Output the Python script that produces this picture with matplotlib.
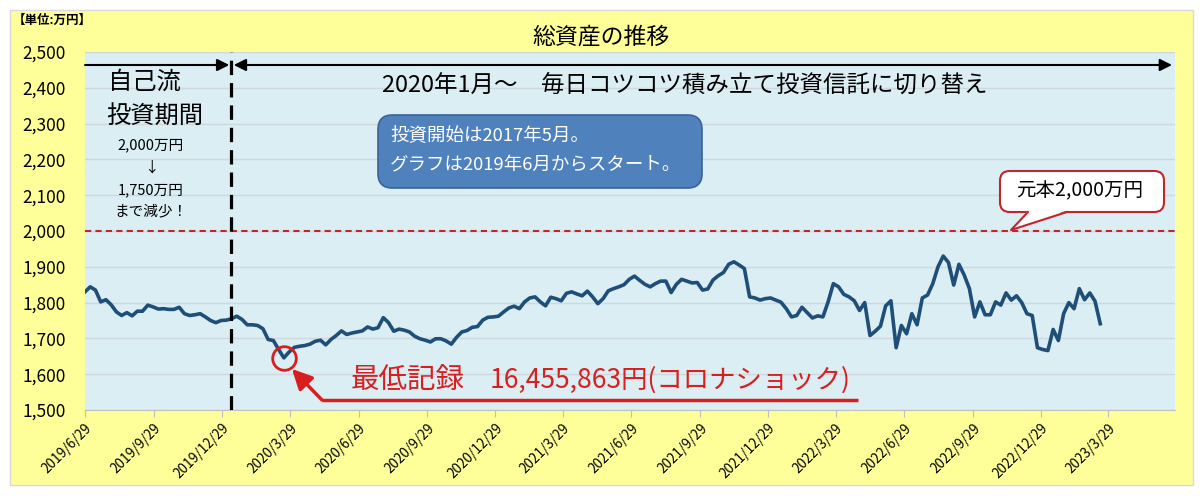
import matplotlib
matplotlib.use('Agg')
import matplotlib.pyplot as plt
import matplotlib.patches as patches
import matplotlib.dates as mdates
from matplotlib.lines import Line2D
import pandas as pd

plt.rcParams['font.family'] = ['Noto Sans CJK JP', 'DejaVu Sans']

# weekly total assets (万円)
start = '2019-06-29'
values_2019 = [1830, 1844, 1835, 1802, 1808, 1794, 1774, 1764, 1772, 1763, 1776, 1776,
               1793, 1788, 1782, 1783, 1781, 1781, 1787, 1769, 1764, 1766, 1769, 1760,
               1750, 1744, 1750, 1751, 1755, 1762, 1753, 1738, 1738, 1736, 1727, 1697,
               1694, 1669, 1645.6, 1662, 1675, 1678, 1680, 1684, 1692, 1695, 1682, 1697, 1708]
values_2020 = [1721, 1711, 1715, 1718, 1721, 1732, 1726, 1730, 1758, 1744, 1720, 1726,
               1723, 1718, 1706, 1699, 1695, 1690, 1699, 1699, 1693, 1684, 1703, 1718,
               1722, 1731, 1733, 1751, 1759, 1760, 1762, 1774, 1785, 1790, 1783, 1802,
               1813, 1816, 1802, 1791, 1815, 1811, 1805, 1826, 1830, 1824, 1819, 1832, 1816]
values_2021 = [1797, 1811, 1833, 1839, 1844, 1850, 1865, 1874, 1862, 1851, 1844, 1853,
               1860, 1860, 1828, 1851, 1865, 1860, 1855, 1856, 1835, 1838, 1863, 1875,
               1884, 1907, 1914, 1905, 1895, 1816, 1813, 1807, 1811, 1813, 1807, 1801,
               1783, 1760, 1764, 1787, 1772, 1757, 1763, 1760, 1802, 1853, 1844, 1823]
values_2022 = [1816, 1805, 1778, 1800, 1708, 1720, 1734, 1791, 1805, 1674, 1736, 1713,
               1769, 1738, 1813, 1821, 1853, 1900, 1930, 1912, 1849, 1907, 1877, 1839,
               1760, 1802, 1766, 1766, 1802, 1793, 1827, 1807, 1819, 1800, 1769, 1764,
               1674, 1669, 1666, 1725, 1694, 1769, 1800, 1783, 1839, 1808, 1827, 1804, 1741]
values = values_2019 + values_2020 + values_2021 + values_2022
dates = pd.date_range(start, periods=len(values), freq='7D')

tick_dates = [pd.Timestamp(start) + pd.DateOffset(months=3 * i) for i in range(16)]
tick_labels = [f'{d.year}/{d.month}/{d.day}' for d in tick_dates]
y_ticks = list(range(1500, 2501, 100))
principal = 2000
switch_date = pd.Timestamp('2020-01-10')
x_end = pd.Timestamp('2023-06-26')

RED = '#D81E1E'
W, H = 1200, 497


def fx(x):
    return x / W


def fy(y):
    return 1 - y / H


fig = plt.figure(figsize=(12, 4.97), dpi=100)
fig.add_artist(patches.Rectangle((fx(10), fy(485)), (1193 - 10) / W, (485 - 10) / H,
                                 transform=fig.transFigure, facecolor='#FFFF99',
                                 edgecolor='#D9D9D9', lw=1, zorder=-1))

ax = fig.add_axes([85 / W, 1 - 410 / H, 1090 / W, 358 / H])
ax.set_facecolor('#DAEEF3')

ax.plot(dates, values, color='#1F4E79', lw=2.6, zorder=4, solid_joinstyle='round')

# lowest point circle
imin = values.index(min(values))
ax.plot(dates[imin], values[imin], marker='o', ms=17, mfc='none', mec=RED, mew=2, zorder=6)

ax.set_ylim(1500, 2500)
ax.set_yticks(y_ticks)
ax.set_yticklabels([f'{v:,}' for v in y_ticks])
ax.set_xlim(pd.Timestamp(start), x_end)
ax.set_xticks(tick_dates)
ax.set_xticklabels(tick_labels, rotation=45, ha='right', rotation_mode='anchor')
ax.yaxis.grid(True, color='#CFD9DD', lw=1)
ax.set_axisbelow(True)
for s in ['top', 'right', 'left']:
    ax.spines[s].set_visible(False)
ax.spines['bottom'].set_color('#BFBFBF')
ax.tick_params(axis='y', length=0, pad=14, labelsize=12.5)
ax.tick_params(axis='x', length=5, color='#BFBFBF', labelsize=9.8, pad=3)

ax.axhline(principal, color='#C0272D', lw=1.5, ls=(0, (3, 2)), zorder=3)
ax.axvline(switch_date, color='black', lw=2.3, ls=(0, (4.5, 2.5)), zorder=5)

# period arrows
xt = ax.get_xaxis_transform()
sw = mdates.date2num(switch_date)
ay = 0.9637
ax.annotate('', xy=(sw - 2, ay), xytext=(mdates.date2num(pd.Timestamp(start)), ay), xycoords=xt,
            arrowprops=dict(arrowstyle='-|>', color='black', lw=1.5, mutation_scale=18,
                            shrinkA=0, shrinkB=0))
ax.annotate('', xy=(mdates.date2num(pd.Timestamp('2023-06-22')), ay), xytext=(sw + 4, ay),
            xycoords=xt,
            arrowprops=dict(arrowstyle='<|-|>', color='black', lw=1.5, mutation_scale=18,
                            shrinkA=0, shrinkB=0))


def ap(x, y):
    return (x - 85) / 1090, (410 - y) / 358


ax.text(*ap(108, 82), '自己流', transform=ax.transAxes, fontsize=17.5, va='center', ha='left')
ax.text(*ap(106, 117), '投資期間', transform=ax.transAxes, fontsize=17.5, va='center', ha='left')
for yy, s in [(145, '2,000万円'), (168, '↓'), (190, '1,750万円'), (211, 'まで減少！')]:
    ax.text(*ap(151, yy), s, transform=ax.transAxes, fontsize=10.5, va='center', ha='center')
ax.text(*ap(685, 86), '2020年1月～　毎日コツコツ積み立て投資信託に切り替え', transform=ax.transAxes,
        fontsize=16.9, va='center', ha='center')

# title and unit
fig.text(fx(601), fy(37), '総資産の推移', fontsize=16.5, ha='center', va='center')
fig.text(fx(13), fy(20), '【単位:万円】', fontsize=9, fontweight='bold', ha='left', va='center')

# blue note box
fig.add_artist(patches.FancyBboxPatch((fx(378), fy(188)), (702 - 378) / W, (188 - 115) / H,
                                      boxstyle='round,pad=0,rounding_size=0.012',
                                      mutation_aspect=W / H, transform=fig.transFigure,
                                      facecolor='#4F81BD', edgecolor='#3A6496', lw=1.2, zorder=6))
fig.text(fx(390), fy(135), '投資開始は2017年5月。', color='white', fontsize=13.3, va='center', zorder=7)
fig.text(fx(390), fy(165), 'グラフは2019年6月からスタート。', color='white', fontsize=13.3, va='center',
         zorder=7)

# principal callout
fig.add_artist(patches.FancyBboxPatch((fx(1000), fy(212)), (1164 - 1000) / W, (212 - 171) / H,
                                      boxstyle='round,pad=0,rounding_size=0.008',
                                      mutation_aspect=W / H, transform=fig.transFigure,
                                      facecolor='white', edgecolor='#C0272D', lw=1.5, zorder=6))
fig.add_artist(patches.Polygon([(fx(1028), fy(210.5)), (fx(1011), fy(230)), (fx(1067), fy(210.5))],
                               closed=True, transform=fig.transFigure, facecolor='white',
                               edgecolor='none', zorder=7))
fig.add_artist(Line2D([fx(1028), fx(1011), fx(1067)], [fy(212), fy(230), fy(212)],
                      transform=fig.transFigure, color='#C0272D', lw=1.5, zorder=7))
fig.text(fx(1080), fy(191), '元本2,000万円', fontsize=14, ha='center', va='center', zorder=8)

# lowest record
fig.text(fx(351), fy(380), '最低記録', fontsize=20.5, color=RED, va='center', ha='left', zorder=8)
fig.text(fx(490), fy(380), '16,455,863円(コロナショック)', fontsize=19, color=RED,
         va='center', ha='left', zorder=8)
fig.add_artist(Line2D([fx(858), fx(322)], [fy(400), fy(400)], transform=fig.transFigure,
                      color=RED, lw=2.5, zorder=8, solid_capstyle='butt'))
fig.add_artist(patches.FancyArrowPatch((fx(322), fy(400)), (fx(292), fy(369)),
                                       transform=fig.transFigure,
                                       arrowstyle='-|>,head_length=0.6,head_width=0.3',
                                       mutation_scale=20, color=RED, lw=2.5,
                                       shrinkA=0, shrinkB=0, zorder=8))

fig.savefig('out.png', dpi=100)
